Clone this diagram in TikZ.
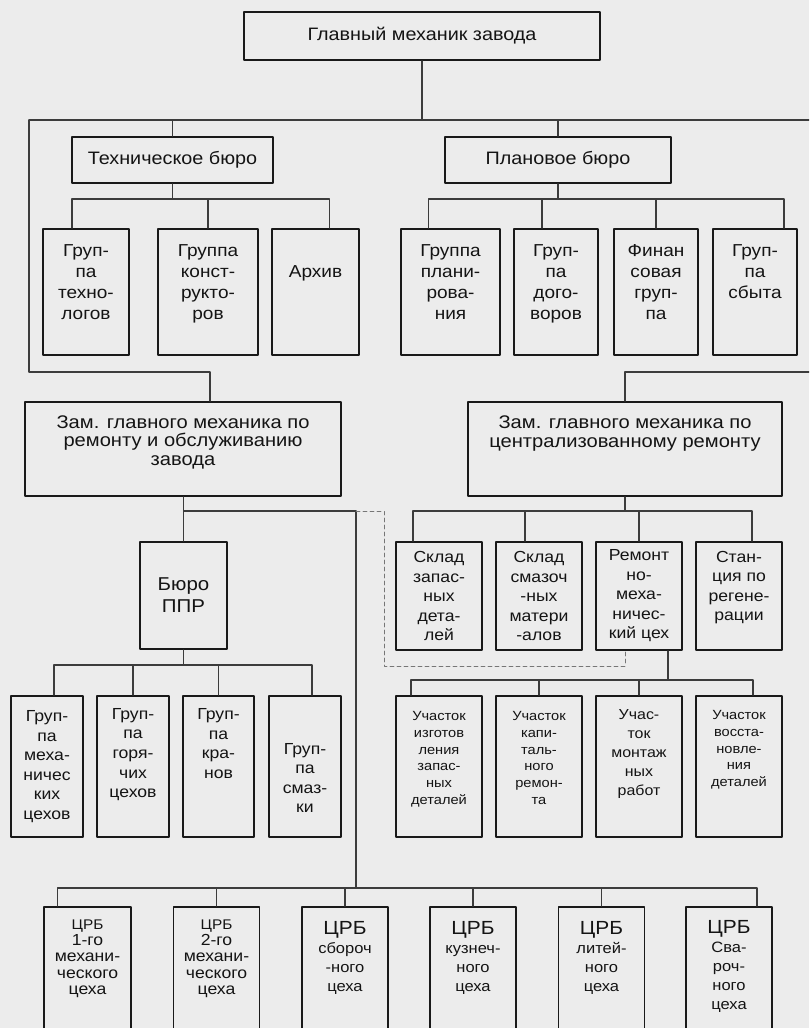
\documentclass[tikz,border=0pt]{standalone}
\usepackage{fontspec}
\setmainfont[FakeStretch=1.1]{Liberation Sans}
\newcommand\fs[2]{\fontsize{#1}{#2}\selectfont}
% сдвиг текста вверх / вниз внутри блока
\newcommand\lift[1]{\rule[-#1pt]{0pt}{#1pt}}
\newcommand\drop[1]{\rule{0pt}{#1pt}}
\definecolor{bgc}{RGB}{236,236,236}
\definecolor{bordc}{RGB}{25,25,25}
\definecolor{linec}{RGB}{60,60,60}
\definecolor{txtc}{RGB}{20,20,20}
\begin{document}
\begin{tikzpicture}[x=1pt, y=-1pt, line join=round, line cap=round,
  box/.style={draw=bordc, line width=1.8pt, inner sep=0pt, align=center, text=txtc},
  sz/.style 2 args={minimum width=#1pt, minimum height=#2pt},
  link/.style={draw=linec, line width=1.1pt},
  dlink/.style={draw=linec!70, line width=0.9pt, dash pattern=on 4pt off 3pt}]
% Фон и рамка рисунка
\useasboundingbox (0,0) rectangle (809,1028);
\fill[bgc] (0,0) rectangle (809,1028);
\clip (0,0) rectangle (809,1028);
% Шины (уровни горизонтальных линий)
\coordinate (bL) at (29,120);
\coordinate (bR) at (815,120);
\coordinate (lL) at (29,372);
\coordinate (rR) at (815,372);
\coordinate (tbus) at (0,199);
\coordinate (zbus) at (0,511);
\coordinate (gbus) at (0,665);
\coordinate (ubus) at (0,680);
\coordinate (cbus) at (0,888);
\coordinate (j) at (356,511);
\coordinate (d1) at (384,666);
\coordinate (d2) at (625,666);
% Главный механик и бюро
\node[box, sz={356}{48}, font=\fs{18}{21}] (gm) at (422,36) {Главный механик завода};
\node[box, sz={201}{46}, font=\fs{18}{21}] (tb) at (172.5,160) {Техническое бюро};
\node[box, sz={226}{46}, font=\fs{18}{21}] (pb) at (558,160) {Плановое бюро};
% Группы бюро
\tikzset{grp/.style={box, minimum height=126pt, font=\fs{17.3}{21}}}
\node[grp, minimum width=86pt] (tg) at (86,292) {Груп-\\па\\техно-\\логов\lift{20}};
\node[grp, minimum width=100pt] (tk) at (208,292) {Группа\\конст-\\рукто-\\ров\lift{20}};
\node[grp, minimum width=87pt] (ar) at (315.5,292) {Архив\lift{40}};
\node[grp, minimum width=99pt] (gp) at (450.5,292) {Группа\\плани-\\рова-\\ния\lift{20}};
\node[grp, minimum width=84pt] (gd) at (556,292) {Груп-\\па\\дого-\\воров\lift{20}};
\node[grp, minimum width=84pt] (fg) at (656,292) {Финан\\совая\\груп-\\па\lift{20}};
\node[grp, minimum width=84pt] (gs) at (755,292) {Груп-\\па\\сбыта\lift{40}};
% Заместители
\node[box, sz={316}{94}, font=\fs{18.3}{18.8}] (zl) at (183,449)
  {Зам. главного механика по\\ремонту и обслуживанию\\завода\lift{17}};
\node[box, sz={314}{94}, font=\fs{18.3}{18.8}] (zr) at (625,449)
  {Зам. главного механика по\\централизованному ремонту\lift{35}};
\node[box, sz={87}{107}, font=\fs{18.6}{22}] (bp) at (183.5,595.5) {Бюро\\ППР};
% Склады и цех
\tikzset{skl/.style={box, sz={86}{108}, font=\fs{16}{19.5}}}
\node[skl] (s1) at (439,596) {Склад\\запас-\\ных\\дета-\\лей};
\node[skl] (s2) at (539,596) {Склад\\смазоч\\-ных\\матери\\-алов};
\node[skl] (s3) at (639,596) {Ремонт\\но-\\меха-\\ничес-\\кий цех};
\node[skl] (s4) at (739,596) {Стан-\\ция по\\регене-\\рации\lift{20}};
% Группы бюро ППР
\tikzset{ppr/.style={box, sz={72}{141}, font=\fs{16}{19.6}}}
\node[ppr] (g1) at (47,766.5) {Груп-\\па\\меха-\\ничес\\ких\\цехов};
\node[ppr] (g2) at (133,766.5) {Груп-\\па\\горя-\\чих\\цехов\lift{27}};
\node[ppr, minimum width=71pt] (g3) at (218.5,766.5) {Груп-\\па\\кра-\\нов\lift{46}};
\node[ppr] (g4) at (305,766.5) {\drop{34}Груп-\\па\\смаз-\\ки};
% Участки ремонтно-механического цеха
\tikzset{uch/.style={box, sz={86}{141}, font=\fs{13.3}{16.7}}}
\node[uch] (u1) at (439,766.5) {Участок\\изготов\\ления\\запас-\\ных\\деталей\lift{17}};
\node[uch] (u2) at (539,766.5) {Участок\\капи-\\таль-\\ного\\ремон-\\та\lift{17}};
\node[uch, font=\fs{14.5}{19}] (u3) at (639,766.5) {Учас-\\ток\\монтаж\\ных\\работ\lift{27}};
\node[uch] (u4) at (739,766.5) {Участок\\восста-\\новле-\\ния\\деталей\lift{36}};
% ЦРБ цехов
\tikzset{crb/.style={box, sz={86}{133}, font=\fs{15}{19}}}
\node[crb, minimum width=87pt, font=\fs{16}{16.3}] (c1) at (87.5,973.5) {{\fs{14}{16.3}ЦРБ}\\1-го\\механи-\\ческого\\цеха\lift{33}};
\node[crb, font=\fs{16}{16.3}] (c2) at (216.5,973.5) {{\fs{14}{16.3}ЦРБ}\\2-го\\механи-\\ческого\\цеха\lift{33}};
\node[crb] (c3) at (345,973.5) {{\fs{19}{19}ЦРБ}\\сбороч\\-ного\\цеха\lift{34}};
\node[crb] (c4) at (473,973.5) {{\fs{19}{19}ЦРБ}\\кузнеч-\\ного\\цеха\lift{34}};
\node[crb] (c5) at (601.5,973.5) {{\fs{19}{19}ЦРБ}\\литей-\\ного\\цеха\lift{34}};
\node[crb] (c6) at (729,973.5) {{\fs{19}{19}ЦРБ}\\Сва-\\роч-\\ного\\цеха\lift{17}};
% Главная шина
\draw[link] (gm.south) -- (gm.south |- bL);
\draw[link] (bL) -- (bR);
\draw[link] (tb.north) -- (tb.north |- bL);
\draw[link] (pb.north) -- (pb.north |- bL);
% Техническое бюро
\draw[link] (tb.south) -- (tb.south |- tbus);
\draw[link] ([xshift=-14pt]tg.north) -- ([xshift=-14pt]tg.north |- tbus) -| ([xshift=14pt]ar.north);
\draw[link] (tk.north) -- (tk.north |- tbus);
% Плановое бюро
\draw[link] (pb.south) -- (pb.south |- tbus);
\draw[link] ([xshift=-22pt]gp.north) -- ([xshift=-22pt]gp.north |- tbus) -| ([xshift=29pt]gs.north);
\draw[link] ([xshift=-14pt]gd.north) -- ([xshift=-14pt]gd.north |- tbus);
\draw[link] (fg.north) -- (fg.north |- tbus);
% К заместителям
\draw[link] (bL) -- (lL) -| ([xshift=27pt]zl.north);
\draw[link] (rR) -| (zr.north);
% Зам. по ремонту и обслуживанию
\draw[link] (bp.north) -- (bp.north |- zl.south);
\draw[link] (bp.north |- j) -- (j);
\draw[link] (j) -- (j |- cbus);
\draw[dlink] (j) -| (d1) -- (d2) -- (d2 |- s3.south);
% Бюро ППР
\draw[link] (bp.south) -- (bp.south |- gbus);
\draw[link] ([xshift=7pt]g1.north) -- ([xshift=7pt]g1.north |- gbus) -| ([xshift=7pt]g4.north);
\foreach \n in {g2,g3} \draw[link] (\n.north) -- (\n.north |- gbus);
% ЦРБ
\draw[link] ([xshift=-30pt]c1.north) -- ([xshift=-30pt]c1.north |- cbus) -| ([xshift=28pt]c6.north);
\foreach \n in {c2,c3,c4,c5} \draw[link] (\n.north) -- (\n.north |- cbus);
% Зам. по централизованному ремонту
\draw[link] (zr.south) -- (zr.south |- zbus);
\draw[link] ([xshift=-26pt]s1.north) -- ([xshift=-26pt]s1.north |- zbus) -| ([xshift=13pt]s4.north);
\draw[link] ([xshift=-14pt]s2.north) -- ([xshift=-14pt]s2.north |- zbus);
\draw[link] (s3.north) -- (s3.north |- zbus);
% Ремонтно-механический цех
\draw[link] ([xshift=29pt]s3.south) -- ([xshift=29pt]s3.south |- ubus);
\draw[link] ([xshift=-28pt]u1.north) -- ([xshift=-28pt]u1.north |- ubus) -| ([xshift=14pt]u4.north);
\foreach \n in {u2,u3} \draw[link] (\n.north) -- (\n.north |- ubus);
\end{tikzpicture}
\end{document}
